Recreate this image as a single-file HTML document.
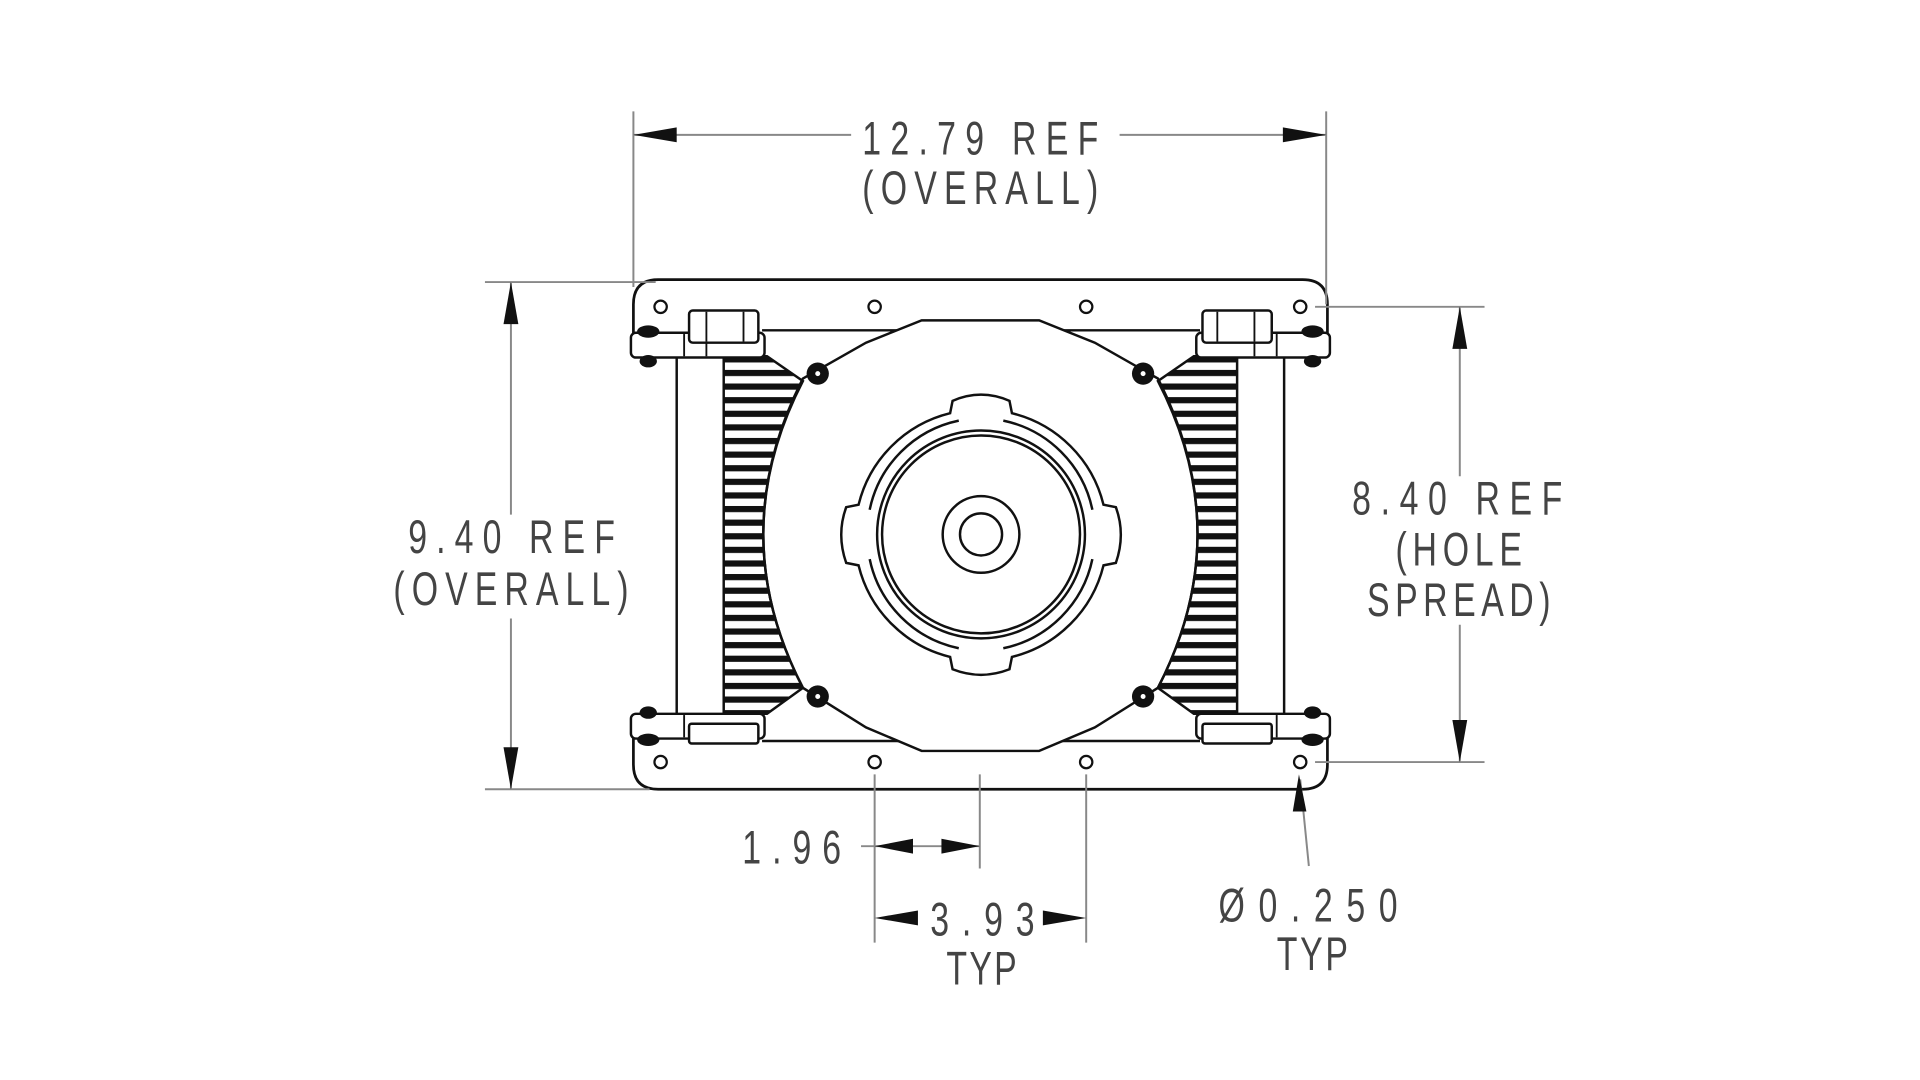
<!DOCTYPE html>
<html><head><meta charset="utf-8"><style>
html,body{margin:0;padding:0;background:#fff;}
svg{display:block;}
text{font-family:"Liberation Sans",sans-serif;font-size:38px;fill:#444;}
</style></head><body>
<svg width="1920" height="1080" viewBox="0 0 1552 873" preserveAspectRatio="none" xmlns="http://www.w3.org/2000/svg">
<defs>
<pattern id="fins" x="0" y="288" width="20" height="11" patternUnits="userSpaceOnUse">
<rect x="0" y="0" width="20" height="5" fill="#111"/>
</pattern>
<clipPath id="finclip"><path d="M585,288 L620,288 L649,308 Q585,432 649,556 L620,577 L585,577 Z"/></clipPath>
<g id="half">
  <rect x="585" y="280" width="70" height="300" fill="url(#fins)" clip-path="url(#finclip)"/>
  <path d="M585,288 L620,288 L649,308 Q585,432 649,556 L620,577 L585,577" fill="none" stroke="#111" stroke-width="2"/>
  <line x1="547" y1="288" x2="547" y2="578" stroke="#111" stroke-width="2"/>
  <line x1="585" y1="288" x2="585" y2="578" stroke="#111" stroke-width="2"/>
  <rect x="510" y="269" width="108" height="20" rx="4" fill="#fff" stroke="#111" stroke-width="2"/>
  <line x1="553" y1="270" x2="553" y2="288" stroke="#111" stroke-width="1.5"/>
  <line x1="571" y1="270" x2="571" y2="288" stroke="#111" stroke-width="1.5"/>
  <rect x="557" y="251" width="56" height="26" rx="3" fill="#fff" stroke="#111" stroke-width="2"/>
  <line x1="571" y1="252" x2="571" y2="276" stroke="#111" stroke-width="1.5"/>
  <line x1="601" y1="252" x2="601" y2="276" stroke="#111" stroke-width="1.5"/>
  <ellipse cx="524" cy="268" rx="9" ry="5" fill="#111"/>
  <ellipse cx="524" cy="292" rx="7" ry="5" fill="#111"/>
  <rect x="510" y="577" width="108" height="20" rx="4" fill="#fff" stroke="#111" stroke-width="2"/>
  <line x1="553" y1="578" x2="553" y2="596" stroke="#111" stroke-width="1.5"/>
  <rect x="557" y="585" width="56" height="16" rx="2" fill="#fff" stroke="#111" stroke-width="2"/>
  <ellipse cx="524" cy="576" rx="7" ry="5" fill="#111"/>
  <ellipse cx="524" cy="598" rx="9" ry="5" fill="#111"/>
  <circle cx="661" cy="302" r="9" fill="#111"/><circle cx="661" cy="302" r="2" fill="#fff"/>
  <circle cx="661" cy="563" r="9" fill="#111"/><circle cx="661" cy="563" r="2" fill="#fff"/>
  <circle cx="534" cy="248" r="5" fill="#fff" stroke="#111" stroke-width="1.8"/>
  <circle cx="707" cy="248" r="5" fill="#fff" stroke="#111" stroke-width="1.8"/>
  <circle cx="534" cy="616" r="5" fill="#fff" stroke="#111" stroke-width="1.8"/>
  <circle cx="707" cy="616" r="5" fill="#fff" stroke="#111" stroke-width="1.8"/>
</g>
</defs>

<path d="M512,270 L512,246 Q512,226 532,226 L1053,226 Q1073,226 1073,246 L1073,270" fill="none" stroke="#111" stroke-width="2.2"/>
<path d="M512,596 L512,618 Q512,638 532,638 L1053,638 Q1073,638 1073,618 L1073,596" fill="none" stroke="#111" stroke-width="2.2"/>
<line x1="616" y1="267" x2="970" y2="267" stroke="#111" stroke-width="2"/>
<line x1="616" y1="599" x2="970" y2="599" stroke="#111" stroke-width="2"/>

<path d="M649,306 L700,277 L745,259 L840,259 L885,277 L936,306 Q1000,432 936,556 L885,588 L840,607 L745,607 L700,588 L649,556 Q585,432 649,306 Z" fill="#fff" stroke="#111" stroke-width="2"/>

<use href="#half"/>
<use href="#half" transform="translate(1585,0) scale(-1,1)"/>

<g fill="none" stroke="#111" stroke-width="2">
<path d="M770,324 Q793,314 816,324 L818,334 A101,101 0 0 1 892,408 L902,410 Q910,432 902,455 L892,457 A101,101 0 0 1 818,531 L816,541 Q793,550 770,541 L768,531 A101,101 0 0 1 694,457 L684,455 Q676,432 684,410 L694,408 A101,101 0 0 1 768,334 Z" fill="#fff"/>
<path d="M775,340 A93,93 0 0 0 703,412"/>
<path d="M811,340 A93,93 0 0 1 883,412"/>
<path d="M775,524 A93,93 0 0 1 703,452"/>
<path d="M811,524 A93,93 0 0 0 883,452"/>
<circle cx="793" cy="432" r="84"/>
<circle cx="793" cy="432" r="80"/>
<circle cx="793" cy="432" r="31"/>
<circle cx="793" cy="432" r="17"/>
</g>

<g stroke="#888" stroke-width="1.6" fill="none">
<line x1="512" y1="90" x2="512" y2="232"/>
<line x1="1072" y1="90" x2="1072" y2="246"/>
<line x1="512" y1="109" x2="688" y2="109"/>
<line x1="905" y1="109" x2="1072" y2="109"/>
<line x1="392" y1="228" x2="530" y2="228"/>
<line x1="392" y1="638" x2="525" y2="638"/>
<line x1="413" y1="228" x2="413" y2="416"/>
<line x1="413" y1="500" x2="413" y2="638"/>
<line x1="1063" y1="248" x2="1200" y2="248"/>
<line x1="1063" y1="616" x2="1200" y2="616"/>
<line x1="1180" y1="248" x2="1180" y2="385"/>
<line x1="1180" y1="505" x2="1180" y2="616"/>
<line x1="707" y1="626" x2="707" y2="762"/>
<line x1="792" y1="626" x2="792" y2="702"/>
<line x1="878" y1="626" x2="878" y2="762"/>
<line x1="696" y1="684" x2="792" y2="684"/>
<line x1="1058" y1="700" x2="1051" y2="630"/>
</g>
<g fill="#111">
<polygon points="512,109 547,103 547,115"/>
<polygon points="1072,109 1037,103 1037,115"/>
<polygon points="413,228 407,262 419,262"/>
<polygon points="413,638 407,604 419,604"/>
<polygon points="1180,248 1174,282 1186,282"/>
<polygon points="1180,616 1174,582 1186,582"/>
<polygon points="707,684 738,678 738,690"/>
<polygon points="792,684 761,678 761,690"/>
<polygon points="707,742 742,736 742,748"/>
<polygon points="878,742 843,736 843,748"/>
<polygon points="1050,626 1045,656 1056,656"/>
</g>

<text transform="translate(697,125) scale(0.72,1)" textLength="265" lengthAdjust="spacing">12.79 REF</text>
<text transform="translate(697,165) scale(0.72,1)" textLength="265" lengthAdjust="spacing">(OVERALL)</text>
<text transform="translate(330,447) scale(0.72,1)" textLength="232" lengthAdjust="spacing">9.40 REF</text>
<text transform="translate(318,489) scale(0.72,1)" textLength="264" lengthAdjust="spacing">(OVERALL)</text>
<text transform="translate(1093,416) scale(0.72,1)" textLength="236" lengthAdjust="spacing">8.40 REF</text>
<text transform="translate(1128,457) scale(0.72,1)" textLength="142" lengthAdjust="spacing">(HOLE</text>
<text transform="translate(1105,498) scale(0.72,1)" textLength="206" lengthAdjust="spacing">SPREAD)</text>
<text transform="translate(600,698) scale(0.72,1)" textLength="111" lengthAdjust="spacing">1.96</text>
<text transform="translate(752,756) scale(0.72,1)" textLength="117" lengthAdjust="spacing">3.93</text>
<text transform="translate(765,796) scale(0.72,1)" textLength="79" lengthAdjust="spacing">TYP</text>
<text transform="translate(985,745) scale(0.72,1)" textLength="201" lengthAdjust="spacing">Ø0.250</text>
<text transform="translate(1032,784) scale(0.72,1)" textLength="80" lengthAdjust="spacing">TYP</text>
</svg>
</body></html>
